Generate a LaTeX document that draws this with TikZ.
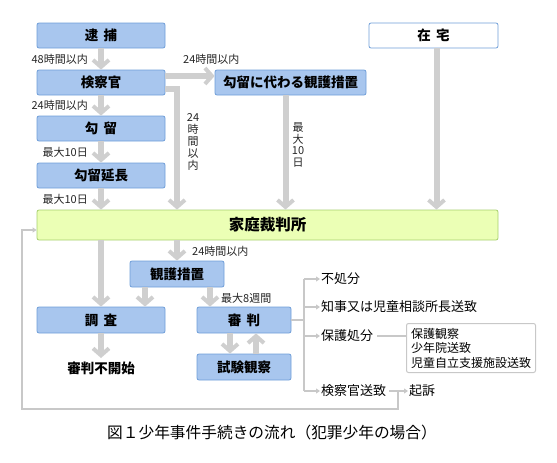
\documentclass[tikz,border=0pt]{standalone}
\usepackage{fontspec}
\setmainfont{Noto Sans CJK JP}
\usetikzlibrary{positioning, arrows.meta}
\definecolor{aoi}{HTML}{A8C6EE}
\definecolor{aoisen}{HTML}{6F9ED8}
\definecolor{midori}{HTML}{EBFFB5}
\definecolor{midorisen}{HTML}{A6CF6E}
\definecolor{hai}{HTML}{CFCFCF}
\definecolor{usuhai}{HTML}{C8C8C8}

\begin{document}
\begin{tikzpicture}[x=1pt, y=-1pt,
    box/.style={draw=aoisen, fill=aoi, rounded corners=2pt, line width=0.8pt,
      minimum height=25pt, inner sep=0pt, font=\bfseries\fontsize{13.5}{13.5}\selectfont},
    fat/.style={draw=hai, line width=6pt, -{Straight Barb[width=16pt,length=7pt,line width=4pt]}},
    thin/.style={draw=usuhai, line width=1.5pt, -{Triangle[width=5pt,length=4pt]}},
    lbl/.style={font=\fontsize{11}{13}\selectfont, text=black!85, inner sep=1pt},
    mid/.style={font=\fontsize{13}{15}\selectfont, inner sep=1pt}]
    \useasboundingbox (0,0) rectangle (557,463);
    % boxes
    \node[box, minimum width=128pt] (taiho) at (101,35.5) {逮\hspace{0.4em}捕};
    \node[box, minimum width=128pt] (kensatsu) at (101,82.5) {検察官};
    \node[box, minimum width=128pt] (koryu) at (101,128.5) {勾\hspace{0.4em}留};
    \node[box, minimum width=128pt] (encho) at (101,175.5) {勾留延長};
    \node[box, minimum width=151pt] (kawari) at (290.5,82.5) {勾留に代わる観護措置};
    \node[box, fill=white, minimum width=129pt] (zaitaku) at (433.5,35.5) {在\hspace{0.4em}宅};
    \node[box, draw=midorisen, fill=midori, minimum width=461pt, minimum height=30pt,
      font=\bfseries\fontsize{15.5}{15.5}\selectfont] (katei) at (267.5,225) {家庭裁判所};
    \node[box, minimum width=94pt, minimum height=26pt] (kango) at (177,274) {観護措置};
    \node[box, minimum width=128pt, minimum height=26pt] (chosa) at (101,320) {調\hspace{0.4em}査};
    \node[box, minimum width=94pt, minimum height=26pt] (shinpan) at (244,320) {審\hspace{0.4em}判};
    \node[box, minimum width=94pt, minimum height=26pt] (shiken) at (244,367) {試験観察};
    \node[font=\bfseries\fontsize{13.5}{13.5}\selectfont] (fukaishi) at (101,368) {審判不開始};

    % thick arrows
    \draw[fat] (taiho) -- (kensatsu);
    \draw[fat] (kensatsu) -- (koryu);
    \draw[fat] (koryu) -- (encho);
    \draw[fat] (encho.south) -- (encho.south |- katei.north);
    \draw[fat] ([yshift=6.5pt]kensatsu.east) -- ([yshift=6.5pt]kawari.west);
    \draw[fat] ([yshift=-6.5pt]kensatsu.east) -| (katei.north -| kango.north);
    \draw[fat] ([xshift=-5pt]kawari.south) -- ([xshift=-5pt]kawari.south |- katei.north);
    \draw[fat] ([xshift=3pt]zaitaku.south) -- ([xshift=3pt]zaitaku.south |- katei.north);
    \draw[fat] (katei.south -| chosa.north) -- (chosa.north);
    \draw[fat] (katei.south -| kango.north) -- (kango.north);
    \draw[fat] ([xshift=-32pt]kango.south) -- ([xshift=-32pt]kango.south |- chosa.north);
    \draw[fat] ([xshift=33pt]kango.south) -- ([xshift=33pt]kango.south |- shinpan.north);
    \draw[fat] (chosa) -- (fukaishi);
    \draw[fat] ([xshift=-14pt]shinpan.south) -- ([xshift=-14pt]shinpan.south |- shiken.north);
    \draw[fat] ([xshift=12pt]shiken.north) -- ([xshift=12pt]shiken.north |- shinpan.south);

    % small labels
    \node[lbl, anchor=east] at (89,59) {48時間以内};
    \node[lbl, anchor=east] at (89,105) {24時間以内};
    \node[lbl, anchor=east] at (89,152) {最大10日};
    \node[lbl, anchor=east] at (89,199) {最大10日};
    \node[lbl, anchor=west] at (182,59) {24時間以内};
    \node[lbl, align=center, font=\fontsize{11}{12.2}\selectfont] at (193,142) {24\\時\\間\\以\\内};
    \node[lbl, align=center, font=\fontsize{11}{11.7}\selectfont] at (298,145) {最\\大\\10\\日};
    \node[lbl, anchor=west] at (191,251) {24時間以内};
    \node[lbl, anchor=west] at (220,298) {最大8週間};

    % dispositions
    \coordinate (bunki) at (304,320);
    \draw[draw=usuhai, line width=1.5pt] (shinpan.east) -- (bunki) (304,279) -- (304,391);
    \foreach \nm/\yy/\tx in {fusho/279/不処分, chiji/307/知事又は児童相談所長送致,
        hogo/336/保護処分, soti/391/検察官送致} {
      \node[mid, anchor=west] (\nm) at (320,\yy) {\tx};
      \draw[thin] (304,\yy) -- (\nm.west);
    }
    \node[draw=usuhai, line width=1pt, rounded corners=2pt, anchor=north west, align=left,
      minimum width=129pt, minimum height=49pt, inner sep=3pt,
      font=\fontsize{12}{14.5}\selectfont] (hogobox) at (406,323)
      {保護観察\\少年院送致\\児童自立支援施設送致};
    \draw[draw=usuhai, line width=1.5pt] (hogo.east) ++(3pt,0) -- (hogobox.west |- hogo.east);
    \node[mid, anchor=west] (kiso) at (408,391) {起訴};
    \draw[thin] ([xshift=2pt]soti.east) -- (kiso.west);
    \coordinate (modori) at (398,409);
    \draw[thin] (modori |- kiso.west) -- (modori) -| (22,230) -- (katei.west |- 0,230);

    \node[font=\fontsize{15.7}{15.7}\selectfont] (caption) at (272,433)
      {図１少年事件手続きの流れ（犯罪少年の場合）};
\end{tikzpicture}
\end{document}
